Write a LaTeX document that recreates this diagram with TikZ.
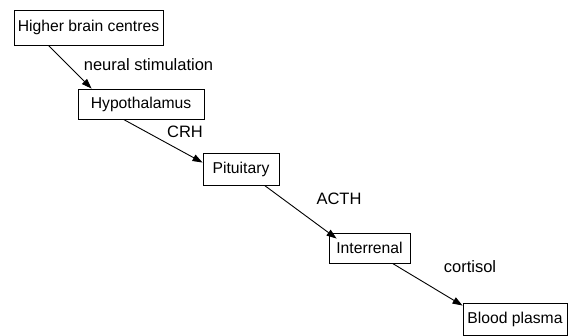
\documentclass[tikz,border=0pt]{standalone}
\usepackage{fontspec}
\setmainfont{Liberation Sans}
\usetikzlibrary{arrows.meta}
\begin{document}
\begin{tikzpicture}[x=1pt,y=-1pt,
  box/.style={draw,line width=0.9pt,inner sep=0pt,font=\fontsize{15.7}{19}\selectfont},
  lbl/.style={inner sep=0pt,anchor=base,font=\fontsize{16.5}{19}\selectfont},
  conn/.style={line width=0.9pt,-{Triangle[length=10pt,width=7pt]}}]
\useasboundingbox (0,0) rectangle (576,336);
\node[box,minimum width=149pt,minimum height=35pt] (hbc) at (88.5,27.5) {Higher brain centres};
\node[box,minimum width=126pt,minimum height=30pt] (hyp) at (141,104) {Hypothalamus};
\node[box,minimum width=76pt,minimum height=32pt] (pit) at (241,169) {Pituitary};
\node[box,minimum width=81pt,minimum height=30pt] (int) at (369.5,248) {Interrenal};
\node[box,minimum width=104pt,minimum height=32pt] (bp) at (515,319) {Blood plasma};
\node[lbl] (l1) at (148.5,71) {neural stimulation};
\node[lbl] (l2) at (185,138) {CRH};
\node[lbl] (l3) at (339,205) {ACTH};
\node[lbl] (l4) at (470,273) {cortisol};
\draw[conn] ([xshift=35pt]hbc.south west) -- ([xshift=14pt]hyp.north west);
\draw[conn] ([xshift=46pt]hyp.south west) -- ([yshift=-10pt]pit.north west);
\draw[conn] ([xshift=62pt]pit.south west) -- ([xshift=8pt,yshift=-6pt]int.north west);
\draw[conn] ([xshift=64pt]int.south west) -- ([yshift=-3pt]bp.north west);
\end{tikzpicture}
\end{document}
